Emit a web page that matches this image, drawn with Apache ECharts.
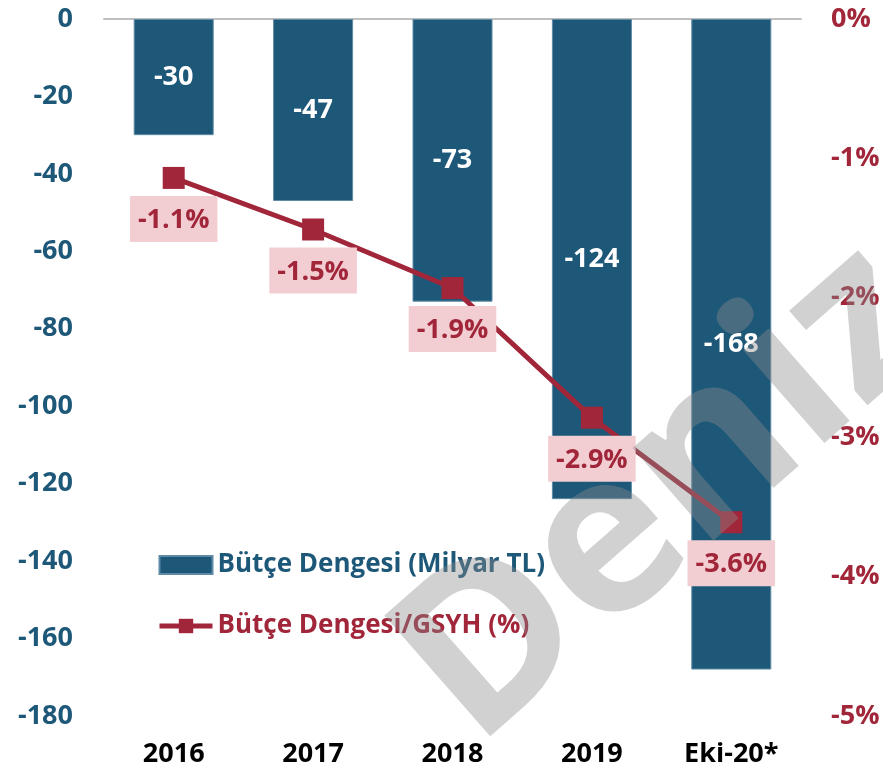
<!DOCTYPE html>
<html>
<head>
<meta charset="utf-8">
<script src="https://cdn.jsdelivr.net/npm/echarts@6/dist/echarts.min.js"></script>
<style>
  html, body { margin: 0; padding: 0; background: #fff; }
  #chart { width: 883px; height: 773px; }
</style>
</head>
<body>
<div id="chart"></div>
<script>
  var categories = ['2016', '2017', '2018', '2019', 'Eki-20*'];
  var balance = [-30, -47, -73, -124, -168];          // Milyar TL
  var ratio = [-1.14, -1.51, -1.93, -2.86, -3.61];     // % GSYH (etiket: 1 ondalik)

  var blue = '#1e5879';
  var red = '#a12639';
  var font = 'Open Sans';

  var myChart = echarts.init(document.getElementById('chart'));
  var option = {
    backgroundColor: '#ffffff',
    textStyle: { fontFamily: font, fontWeight: 'bold' },
    grid: { left: 104, right: 82, top: 19, bottom: 57 },
    legend: {
      orient: 'vertical',
      left: 152,
      top: 547,
      itemWidth: 53,
      itemHeight: 18,
      itemGap: 35,
      textStyle: { fontFamily: font, fontWeight: 'bold', fontSize: 26 },
      data: [
        { name: 'Bütçe Dengesi (Milyar TL)', icon: 'rect', textStyle: { color: blue } },
        { name: 'Bütçe Dengesi/GSYH (%)', lineStyle: { width: 5 }, textStyle: { color: red } }
      ]
    },
    xAxis: [
      {
        type: 'category',
        data: categories,
        position: 'bottom',
        axisLine: { show: false, onZero: false },
        axisTick: { show: false },
        axisLabel: { color: '#000', fontSize: 27, fontWeight: 'bold', fontFamily: font, margin: 25 }
      },
      {
        // zero line at the top of the plot
        type: 'category',
        data: categories,
        position: 'top',
        axisLine: { show: true, onZero: false, lineStyle: { color: '#bfbfbf', width: 2 } },
        axisTick: { show: false },
        axisLabel: { show: false }
      }
    ],
    yAxis: [
      {
        type: 'value',
        min: -180,
        max: 0,
        interval: 20,
        splitLine: { show: false },
        axisLine: { show: false },
        axisTick: { show: false },
        axisLabel: { color: blue, fontSize: 27, fontWeight: 'bold', fontFamily: font, margin: 31 }
      },
      {
        type: 'value',
        min: -5,
        max: 0,
        interval: 1,
        position: 'right',
        splitLine: { show: false },
        axisLine: { show: false },
        axisTick: { show: false },
        axisLabel: { color: red, fontSize: 27, fontWeight: 'bold', fontFamily: font, margin: 30, formatter: '{value}%' }
      }
    ],
    series: [
      {
        name: 'Bütçe Dengesi (Milyar TL)',
        type: 'bar',
        barWidth: 80,
        itemStyle: { color: blue, borderColor: '#5f8aa5', borderWidth: 1 },
        label: {
          show: true,
          position: 'inside',
          color: '#fff',
          fontSize: 27,
          fontWeight: 'bold',
          fontFamily: font
        },
        data: balance
      },
      {
        name: 'Bütçe Dengesi/GSYH (%)',
        type: 'line',
        yAxisIndex: 1,
        symbol: 'rect',
        symbolSize: 22,
        lineStyle: { color: red, width: 5 },
        itemStyle: { color: red },
        label: {
          show: true,
          position: 'bottom',
          distance: 7,
          color: red,
          fontSize: 27,
          fontWeight: 'bold',
          fontFamily: font,
          backgroundColor: '#f2ced3',
          padding: [11, 8, 8, 8],
          formatter: function (p) { return p.value.toFixed(1) + '%'; }
        },
        data: ratio,
        z: 3
      }
    ],
    graphic: [
      {
        type: 'text',
        x: 668,
        y: 495,
        rotation: 0.72,
        z: 100,
        silent: true,
        style: {
          text: 'Deniz',
          font: 'bold 225px "Open Sans"',
          fill: '#8c8c8c',
          opacity: 0.4,
          align: 'center',
          verticalAlign: 'middle',
          shadowBlur: 14,
          shadowColor: 'rgba(0,0,0,0.35)',
          shadowOffsetX: 3,
          shadowOffsetY: 3
        }
      }
    ]
  };
  myChart.setOption(option);
</script>
</body>
</html>
